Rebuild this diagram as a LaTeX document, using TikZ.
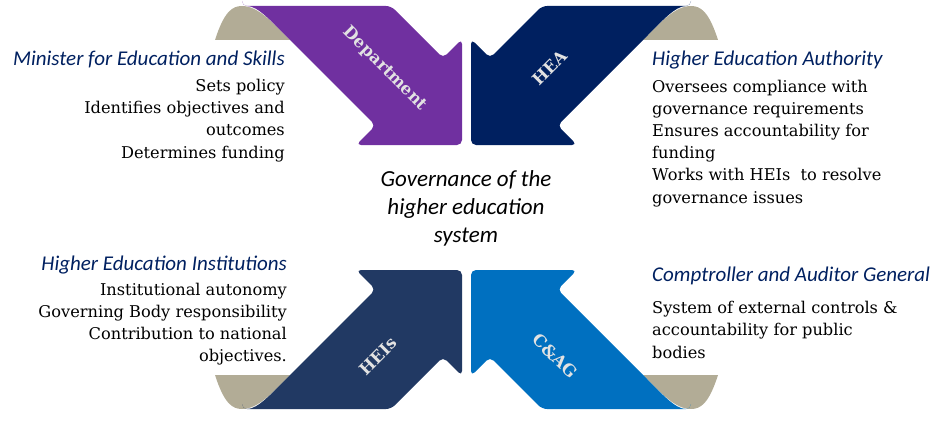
\documentclass[tikz,border=0pt]{standalone}
\usepackage{fontspec}
\setmainfont{DejaVu Serif}
\newfontfamily\calibri{Carlito}
\definecolor{deptpurple}{RGB}{112,48,160}
\definecolor{heanavy}{RGB}{0,32,96}
\definecolor{heisblue}{RGB}{33,57,99}
\definecolor{cagblue}{RGB}{0,112,192}
\definecolor{curlbeige}{RGB}{178,172,150}
\definecolor{titleblue}{RGB}{0,32,96}
\definecolor{labelgrey}{RGB}{226,226,226}
\begin{document}
\begin{tikzpicture}[x=1pt,y=-1pt,
 bodytext/.style={inner sep=0,font=\fontsize{16.2}{22.2}\selectfont},
 titletext/.style={inner sep=0,text=titleblue,font=\calibri\itshape\fontsize{21}{22}\selectfont},
 centretext/.style={inner sep=0,align=center,font=\calibri\itshape\fontsize{23}{28}\selectfont},
 labeltext/.style={inner sep=0,text=labelgrey,font=\bfseries\fontsize{16.5}{18}\selectfont}]
\useasboundingbox (0,0) rectangle (941,420);
\foreach \sx/\sy/\col in {1/1/deptpurple,-1/1/heanavy,1/-1/heisblue,-1/-1/cagblue}
{\begin{scope}[shift={(466.5,207.5)},xscale=\sx,yscale=\sy]
\fill[curlbeige] (-251.5,-167.5) .. controls (-242.5,-195.5) and (-234.5,-201.5) .. (-224.5,-201.5)
  .. controls (-208.5,-201.5) and (-194.5,-185.5) .. (-176.5,-167.5) -- cycle;
\fill[\col,rounded corners=5] (-224.5,-201.5) -- (-75.5,-201.5) -- (-23.5,-149.5) -- (-4.5,-168.5)
  -- (-4.5,-62.5) -- (-110.5,-62.5) -- (-91,-82) -- (-176.5,-167.5)
  .. controls (-194.5,-185.5) and (-208.5,-201.5) .. (-224.5,-201.5) -- cycle;
\end{scope}}

\node[labeltext,rotate=-45] (dept) at (385,69) {Department};
\node[labeltext,rotate=45] (hea) at (550,68) {HEA};
\node[labeltext,rotate=45] (heis) at (378,356) {HEIs};
\node[labeltext,rotate=-45] (cag) at (555,356) {C\&AG};

% base anchor = last line of each block
\node[titletext,anchor=base east] (minister) at (285,65) {Minister for Education and Skills};
\node[bodytext,anchor=base east,align=right] (ministerroles) at (285,158)
 {Sets policy\\Identifies objectives and\\outcomes\\Determines funding};
\node[titletext,anchor=base west] (authority) at (652,66) {Higher Education Authority};
\node[bodytext,anchor=base west,align=left] (authorityroles) at (652,203)
 {Oversees compliance with\\governance requirements\\Ensures accountability for\\funding\\Works with HEIs~ to resolve\\governance issues};
\node[titletext,anchor=base east] (institutions) at (287,270) {Higher Education Institutions};
\node[bodytext,anchor=base east,align=right] (institutionroles) at (287,361.7)
 {Institutional autonomy\\Governing Body responsibility\\Contribution to national\\objectives.};
\node[titletext,anchor=base west] (comptroller) at (652,281.7) {Comptroller and Auditor General};
\node[bodytext,anchor=base west,align=left] (comptrollerroles) at (652,358)
 {System of external controls \&\\accountability for public\\bodies};

\node[centretext,anchor=base] (governance) at (466,242) {Governance of the\\higher education\\system};
\end{tikzpicture}
\end{document}
